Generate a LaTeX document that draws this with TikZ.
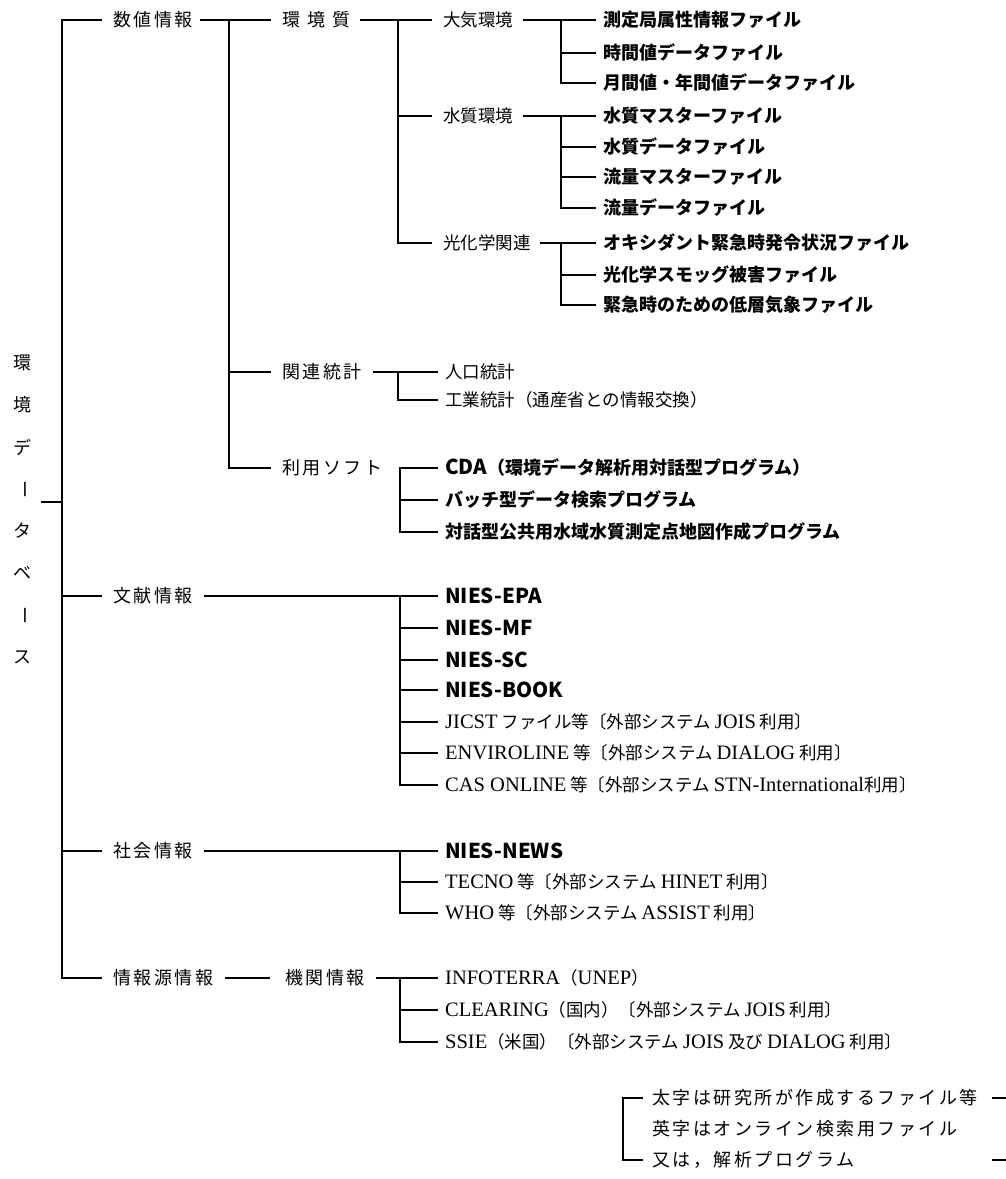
\documentclass[tikz,border=0pt]{standalone}
\usepackage{fontspec}
\setmainfont{Liberation Serif}
\newfontfamily\jp{Noto Sans CJK JP}
\newfontfamily\jpsp{Noto Sans CJK JP}[LetterSpace=14]
\newfontfamily\jplg{Noto Sans CJK JP}[LetterSpace=14]
\newfontfamily\latn{Liberation Serif}
\newcommand\La[1]{{\latn\fontsize{20.5}{22}\selectfont #1}}
\newcommand\Lb[1]{{\fontsize{20.5}{22}\selectfont #1}}
\tikzset{
  ln/.style={line width=1.1pt, line cap=rect},
  tx/.style={anchor=west, inner sep=0pt, font=\jp\fontsize{17.5}{20}\selectfont},
  tb/.style={tx, font=\jp\bfseries\fontsize{18}{20}\selectfont},
  tl/.style={tx, font=\jpsp\fontsize{18}{20}\selectfont},
  tg/.style={tx, font=\jplg\fontsize{18}{20}\selectfont},
  rt/.style={inner sep=0pt, font=\jp\fontsize{18}{20}\selectfont},
}
\begin{document}
\begin{tikzpicture}[x=1pt,y=-1pt]
\useasboundingbox (0,0) rectangle (1006,1179);
% root (vertical text)
\node[rt] (r1) at (22,363) {環};
\node[rt] (r2) at (22,405) {境};
\node[rt] (r3) at (22,447) {デ};
\node[rt,rotate=-90] (r4) at (22,489) {ー};
\node[rt] (r5) at (22,531) {タ};
\node[rt] (r6) at (22,573) {ベ};
\node[rt,rotate=-90] (r7) at (22,615) {ー};
\node[rt] (r8) at (22,657) {ス};
\coordinate (rs) at (42,502);
% level 1
\coordinate (B0t) at (62,20);
\coordinate (B0b) at (62,978);
\node[tl] (n1) at (113,20) {数値情報};
\node[tl] (n2) at (113,596) {文献情報};
\node[tl] (n3) at (113,851) {社会情報};
\node[tl] (n4) at (113,978) {情報源情報};
\draw[ln] (rs) -- (rs -| B0t);
\draw[ln] (B0t) -- (B0b);
\foreach \n in {n1,n2,n3,n4} \draw[ln] (B0t |- \n.west) -- ([xshift=-12pt]\n.west);
% level 2 under 数値情報
\coordinate (B2t) at (229,20);
\coordinate (B2b) at (229,468);
\node[tl] (m1) at (282,20) {環\hspace{7pt}境\hspace{7pt}質};
\node[tl] (m2) at (282,372) {関連統計};
\node[tl] (m3) at (282,468) {利用ソフト};
\draw[ln] ([xshift=8pt]n1.east) -- ([xshift=-12pt]m1.west);
\draw[ln] (B2t) -- (B2b);
\foreach \n in {m2,m3} \draw[ln] (B2t |- \n.west) -- ([xshift=-12pt]\n.west);
% level 3 under 環境質
\coordinate (B3t) at (398,20);
\coordinate (B3b) at (398,243);
\node[tx] (a1) at (443,20) {大気環境};
\node[tx] (a2) at (443,116) {水質環境};
\node[tx] (a3) at (443,243) {光化学関連};
\draw[ln] ([xshift=10pt]m1.east) -- ([xshift=-12pt]a1.west);
\draw[ln] (B3t) -- (B3b);
\foreach \n in {a2,a3} \draw[ln] (B3t |- \n.west) -- ([xshift=-12pt]\n.west);
% level 4
\node[tb] (f1) at (603,20) {測定局属性情報ファイル};
\node[tb] (f2) at (603,53) {時間値データファイル};
\node[tb] (f3) at (603,83) {月間値・年間値データファイル};
\node[tb] (f4) at (603,116) {水質マスターファイル};
\node[tb] (f5) at (603,147) {水質データファイル};
\node[tb] (f6) at (603,177) {流量マスターファイル};
\node[tb] (f7) at (603,208) {流量データファイル};
\node[tb] (f8) at (603,243) {オキシダント緊急時発令状況ファイル};
\node[tb] (f9) at (603,275) {光化学スモッグ被害ファイル};
\node[tb] (f10) at (603,305) {緊急時のための低層気象ファイル};
\coordinate (B4) at (561,20);
\draw[ln] ([xshift=10pt]a1.east) -- ([xshift=-8pt]f1.west);
\draw[ln] (B4 |- f1.west) -- (B4 |- f3.west);
\foreach \n in {f2,f3} \draw[ln] (B4 |- \n.west) -- ([xshift=-8pt]\n.west);
\draw[ln] ([xshift=10pt]a2.east) -- ([xshift=-8pt]f4.west);
\draw[ln] (B4 |- f4.west) -- (B4 |- f7.west);
\foreach \n in {f5,f6,f7} \draw[ln] (B4 |- \n.west) -- ([xshift=-8pt]\n.west);
\draw[ln] ([xshift=10pt]a3.east) -- ([xshift=-8pt]f8.west);
\draw[ln] (B4 |- f8.west) -- (B4 |- f10.west);
\foreach \n in {f9,f10} \draw[ln] (B4 |- \n.west) -- ([xshift=-8pt]\n.west);
% 関連統計
\coordinate (B5) at (398,372);
\node[tx] (s1) at (445,372) {人口統計};
\node[tx] (s2) at (445,400) {工業統計（通産省との情報交換）};
\draw[ln] ([xshift=12pt]m2.east) -- ([xshift=-8pt]s1.west);
\draw[ln] (B5 |- s1.west) -- (B5 |- s2.west);
\draw[ln] (B5 |- s2.west) -- ([xshift=-8pt]s2.west);
% 利用ソフト
\coordinate (B6) at (400,468);
\node[tb] (p1) at (445,468) {\Lb{CDA}（環境データ解析用対話型プログラム）};
\node[tb] (p2) at (445,500) {バッチ型データ検索プログラム};
\node[tb] (p3) at (445,532) {対話型公共用水域水質測定点地図作成プログラム};
\draw[ln] (B6 |- p1.west) -- (B6 |- p3.west);
\foreach \n in {p1,p2,p3} \draw[ln] (B6 |- \n.west) -- ([xshift=-8pt]\n.west);
% 文献情報
\coordinate (B7) at (400,596);
\node[tb] (d1) at (445,596) {\Lb{NIES-EPA}};
\node[tb] (d2) at (445,628) {\Lb{NIES-MF}};
\node[tb] (d3) at (445,660) {\Lb{NIES-SC}};
\node[tb] (d4) at (445,690) {\Lb{NIES-BOOK}};
\node[tx] (d5) at (445,722) {\La{JICST} ファイル等〔外部システム \La{JOIS} 利用〕};
\node[tx] (d6) at (445,753) {\La{ENVIROLINE} 等〔外部システム \La{DIALOG} 利用〕};
\node[tx] (d7) at (445,785) {\La{CAS ONLINE} 等〔外部システム \La{STN-International}利用〕};
\draw[ln] ([xshift=12pt]n2.east) -- ([xshift=-8pt]d1.west);
\draw[ln] (B7 |- d1.west) -- (B7 |- d7.west);
\foreach \n in {d2,d3,d4,d5,d6,d7} \draw[ln] (B7 |- \n.west) -- ([xshift=-8pt]\n.west);
% 社会情報
\coordinate (B8) at (400,851);
\node[tb] (e1) at (445,851) {\Lb{NIES-NEWS}};
\node[tx] (e2) at (445,882) {\La{TECNO} 等〔外部システム \La{HINET} 利用〕};
\node[tx] (e3) at (445,913) {\La{WHO} 等〔外部システム \La{ASSIST} 利用〕};
\draw[ln] ([xshift=12pt]n3.east) -- ([xshift=-8pt]e1.west);
\draw[ln] (B8 |- e1.west) -- (B8 |- e3.west);
\foreach \n in {e2,e3} \draw[ln] (B8 |- \n.west) -- ([xshift=-8pt]\n.west);
% 情報源情報
\node[tl] (k1) at (285,978) {機関情報};
\coordinate (B9) at (400,978);
\node[tx] (g1) at (445,978) {\La{INFOTERRA}（\La{UNEP}）};
\node[tx] (g2) at (445,1010) {\La{CLEARING}（国内）〔外部システム \La{JOIS} 利用〕};
\node[tx] (g3) at (445,1042) {\La{SSIE}（米国）〔外部システム \La{JOIS} 及び \La{DIALOG} 利用〕};
\draw[ln] ([xshift=12pt]n4.east) -- ([xshift=-16pt]k1.west);
\draw[ln] ([xshift=12pt]k1.east) -- ([xshift=-8pt]g1.west);
\draw[ln] (B9 |- g1.west) -- (B9 |- g3.west);
\foreach \n in {g2,g3} \draw[ln] (B9 |- \n.west) -- ([xshift=-8pt]\n.west);
% legend
\coordinate (BL) at (623,1098);
\node[tg] (h1) at (652,1098) {太字は研究所が作成するファイル等};
\node[tg] (h2) at (652,1129) {英字はオンライン検索用ファイル};
\node[tg] (h3) at (652,1160) {又は，解析プログラム};
\draw[ln] (BL |- h1.west) -- (BL |- h3.west);
\foreach \n in {h1,h3} \draw[ln] (BL |- \n.west) -- ([xshift=-10pt]\n.west);
\coordinate (q1) at (993,1098);
\coordinate (q2) at (993,1160);
\draw[ln] (q1) -- ++(13,0);
\draw[ln] (q2) -- ++(13,0);
\end{tikzpicture}
\end{document}
